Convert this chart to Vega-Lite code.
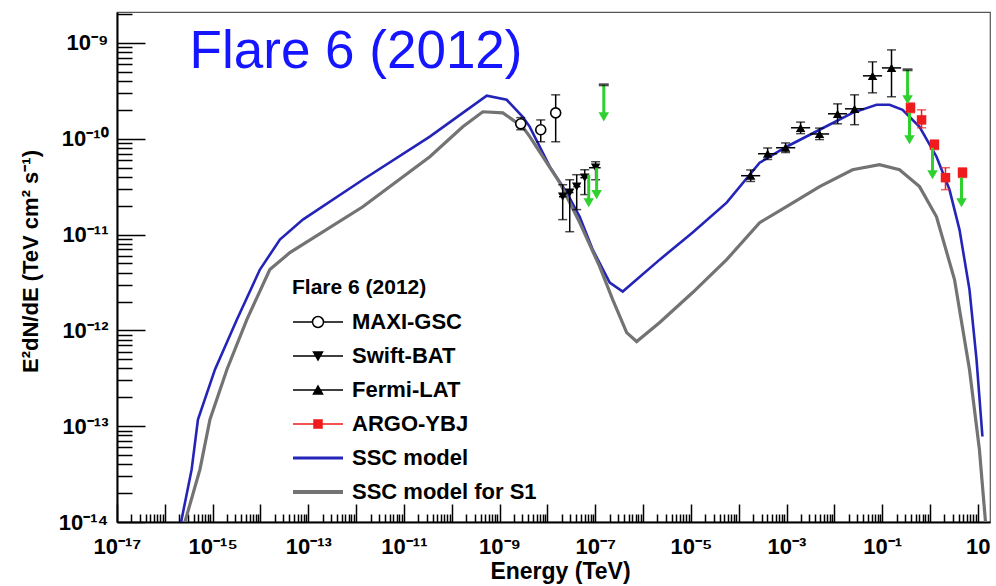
{
  "$schema": "https://vega.github.io/schema/vega-lite/v6.json",
  "width": 873,
  "height": 510,
  "autosize": "none",
  "padding": {"left": 117, "top": 12, "right": 6, "bottom": 64},
  "background": "white",
  "config": {"view": {"stroke": "#555555", "strokeWidth": 1.2}, "font": "Liberation Sans"},
  "datasets": {
    "models": [
      {"series": "SSC model", "E": 2.19e-16, "F": 1.0e-14},
      {"series": "SSC model", "E": 3.64e-16, "F": 3.54e-14},
      {"series": "SSC model", "E": 4.93e-16, "F": 1.175e-13},
      {"series": "SSC model", "E": 1.12e-15, "F": 3.91e-13},
      {"series": "SSC model", "E": 3.22e-15, "F": 1.30e-12},
      {"series": "SSC model", "E": 9.75e-15, "F": 4.31e-12},
      {"series": "SSC model", "E": 2.55e-14, "F": 8.85e-12},
      {"series": "SSC model", "E": 7.71e-14, "F": 1.43e-11},
      {"series": "SSC model", "E": 1.38e-12, "F": 3.73e-11},
      {"series": "SSC model", "E": 3.48e-11, "F": 1.05e-10},
      {"series": "SSC model", "E": 1.70e-10, "F": 1.86e-10},
      {"series": "SSC model", "E": 5.40e-10, "F": 2.81e-10},
      {"series": "SSC model", "E": 1.41e-9, "F": 2.55e-10},
      {"series": "SSC model", "E": 3.05e-9, "F": 1.69e-10},
      {"series": "SSC model", "E": 4.28e-9, "F": 1.33e-10},
      {"series": "SSC model", "E": 1.12e-8, "F": 5.11e-11},
      {"series": "SSC model", "E": 2.54e-8, "F": 2.74e-11},
      {"series": "SSC model", "E": 4.74e-8, "F": 1.53e-11},
      {"series": "SSC model", "E": 8.87e-8, "F": 6.95e-12},
      {"series": "SSC model", "E": 2.01e-7, "F": 3.15e-12},
      {"series": "SSC model", "E": 3.76e-7, "F": 2.54e-12},
      {"series": "SSC model", "E": 2.23e-6, "F": 5.47e-12},
      {"series": "SSC model", "E": 1.09e-5, "F": 1.05e-11},
      {"series": "SSC model", "E": 5.60e-5, "F": 2.15e-11},
      {"series": "SSC model", "E": 2.74e-4, "F": 5.61e-11},
      {"series": "SSC model", "E": 1.00e-3, "F": 8.24e-11},
      {"series": "SSC model", "E": 4.92e-3, "F": 1.24e-10},
      {"series": "SSC model", "E": 0.024, "F": 1.86e-10},
      {"series": "SSC model", "E": 0.0764, "F": 2.26e-10},
      {"series": "SSC model", "E": 0.143, "F": 2.26e-10},
      {"series": "SSC model", "E": 0.267, "F": 2.00e-10},
      {"series": "SSC model", "E": 0.605, "F": 1.33e-10},
      {"series": "SSC model", "E": 1.37, "F": 6.49e-11},
      {"series": "SSC model", "E": 2.56, "F": 2.94e-11},
      {"series": "SSC model", "E": 4.15, "F": 1.12e-11},
      {"series": "SSC model", "E": 6.70, "F": 2.66e-12},
      {"series": "SSC model", "E": 9.40, "F": 4.97e-13},
      {"series": "SSC model", "E": 12.5, "F": 7.8e-14},
      {"series": "SSC model for S1", "E": 2.63e-16, "F": 1.0e-14},
      {"series": "SSC model for S1", "E": 5.43e-16, "F": 3.54e-14},
      {"series": "SSC model for S1", "E": 8.79e-16, "F": 1.175e-13},
      {"series": "SSC model for S1", "E": 1.99e-15, "F": 3.91e-13},
      {"series": "SSC model for S1", "E": 5.21e-15, "F": 1.30e-12},
      {"series": "SSC model for S1", "E": 1.57e-14, "F": 4.31e-12},
      {"series": "SSC model for S1", "E": 4.12e-14, "F": 6.47e-12},
      {"series": "SSC model for S1", "E": 1.38e-12, "F": 1.95e-11},
      {"series": "SSC model for S1", "E": 3.48e-11, "F": 6.49e-11},
      {"series": "SSC model for S1", "E": 1.70e-10, "F": 1.33e-10},
      {"series": "SSC model for S1", "E": 4.46e-10, "F": 1.91e-10},
      {"series": "SSC model for S1", "E": 1.17e-9, "F": 1.86e-10},
      {"series": "SSC model for S1", "E": 3.05e-9, "F": 1.33e-10},
      {"series": "SSC model for S1", "E": 4.28e-9, "F": 1.05e-10},
      {"series": "SSC model for S1", "E": 1.81e-8, "F": 3.48e-11},
      {"series": "SSC model for S1", "E": 4.74e-8, "F": 1.33e-11},
      {"series": "SSC model for S1", "E": 1.24e-7, "F": 4.62e-12},
      {"series": "SSC model for S1", "E": 2.32e-7, "F": 2.09e-12},
      {"series": "SSC model for S1", "E": 4.55e-7, "F": 9.48e-13},
      {"series": "SSC model for S1", "E": 7.36e-7, "F": 7.64e-13},
      {"series": "SSC model for S1", "E": 2.23e-6, "F": 1.21e-12},
      {"series": "SSC model for S1", "E": 1.09e-5, "F": 2.48e-12},
      {"series": "SSC model for S1", "E": 5.60e-5, "F": 5.47e-12},
      {"series": "SSC model for S1", "E": 2.74e-4, "F": 1.33e-11},
      {"series": "SSC model for S1", "E": 1.00e-3, "F": 1.95e-11},
      {"series": "SSC model for S1", "E": 4.92e-3, "F": 3.16e-11},
      {"series": "SSC model for S1", "E": 0.024, "F": 4.74e-11},
      {"series": "SSC model for S1", "E": 0.0881, "F": 5.35e-11},
      {"series": "SSC model for S1", "E": 0.231, "F": 4.74e-11},
      {"series": "SSC model for S1", "E": 0.605, "F": 3.16e-11},
      {"series": "SSC model for S1", "E": 1.37, "F": 1.53e-11},
      {"series": "SSC model for S1", "E": 3.26, "F": 3.39e-12},
      {"series": "SSC model for S1", "E": 6.70, "F": 3.91e-13},
      {"series": "SSC model for S1", "E": 10.8, "F": 5.73e-14},
      {"series": "SSC model for S1", "E": 14.5, "F": 1.0e-14},
      {"series": "SSC model for S1", "E": 15.8, "F": 5.0e-15}
    ],
    "pts": [
      {"series": "MAXI-GSC", "E": 2.77e-9, "F": 1.43e-10, "lo": 1.24e-10, "hi": 1.66e-10},
      {"series": "MAXI-GSC", "E": 7.26e-9, "F": 1.24e-10, "lo": 9.29e-11, "hi": 1.57e-10},
      {"series": "MAXI-GSC", "E": 1.49e-8, "F": 1.86e-10, "lo": 9.29e-11, "hi": 2.87e-10},
      {"series": "Swift-BAT", "E": 2.09e-8, "F": 2.48e-11, "lo": 1.43e-11, "hi": 3.31e-11, "Elo": 1.75e-8, "Ehi": 2.5e-8},
      {"series": "Swift-BAT", "E": 2.93e-8, "F": 2.74e-11, "lo": 1.07e-11, "hi": 3.73e-11, "Elo": 2.5e-8, "Ehi": 3.5e-8},
      {"series": "Swift-BAT", "E": 4.10e-8, "F": 3.16e-11, "lo": 1.82e-11, "hi": 4.21e-11, "Elo": 3.5e-8, "Ehi": 4.9e-8},
      {"series": "Swift-BAT", "E": 6.03e-8, "F": 3.92e-11, "lo": 2.61e-11, "hi": 4.74e-11, "Elo": 4.9e-8, "Ehi": 7.4e-8},
      {"series": "Swift-BAT", "E": 1.02e-7, "F": 4.98e-11, "lo": 3.73e-11, "hi": 5.75e-11, "Elo": 7.4e-8, "Ehi": 1.3e-7},
      {"series": "Fermi-LAT", "E": 1.78e-4, "F": 4.11e-11, "lo": 3.58e-11, "hi": 4.72e-11, "Elo": 1.12e-4, "Ehi": 2.82e-4},
      {"series": "Fermi-LAT", "E": 4.03e-4, "F": 6.97e-11, "lo": 6.07e-11, "hi": 8.0e-11, "Elo": 2.54e-4, "Ehi": 6.39e-4},
      {"series": "Fermi-LAT", "E": 9.57e-4, "F": 8.05e-11, "lo": 7.17e-11, "hi": 9.03e-11, "Elo": 6.04e-4, "Ehi": 1.52e-3},
      {"series": "Fermi-LAT", "E": 1.97e-3, "F": 1.30e-10, "lo": 1.13e-10, "hi": 1.49e-10, "Elo": 1.24e-3, "Ehi": 3.12e-3},
      {"series": "Fermi-LAT", "E": 4.91e-3, "F": 1.12e-10, "lo": 9.79e-11, "hi": 1.29e-10, "Elo": 3.10e-3, "Ehi": 7.78e-3},
      {"series": "Fermi-LAT", "E": 1.17e-2, "F": 1.82e-10, "lo": 1.43e-10, "hi": 2.31e-10, "Elo": 7.38e-3, "Ehi": 1.85e-2},
      {"series": "Fermi-LAT", "E": 2.65e-2, "F": 2.05e-10, "lo": 1.40e-10, "hi": 2.87e-10, "Elo": 1.67e-2, "Ehi": 4.20e-2},
      {"series": "Fermi-LAT", "E": 6.30e-2, "F": 4.53e-10, "lo": 3.01e-10, "hi": 6.34e-10, "Elo": 3.97e-2, "Ehi": 9.98e-2},
      {"series": "Fermi-LAT", "E": 0.157, "F": 5.48e-10, "lo": 2.74e-10, "hi": 8.45e-10, "Elo": 0.099, "Ehi": 0.249},
      {"series": "ARGO-YBJ", "E": 0.392, "F": 2.10e-10, "lo": 1.87e-10, "hi": 2.36e-10, "Elo": 0.33, "Ehi": 0.47},
      {"series": "ARGO-YBJ", "E": 0.667, "F": 1.57e-10, "lo": 1.30e-10, "hi": 2.00e-10, "Elo": 0.56, "Ehi": 0.80},
      {"series": "ARGO-YBJ", "E": 1.24, "F": 8.65e-11, "lo": 7.71e-11, "hi": 9.71e-11, "Elo": 1.04, "Ehi": 1.48},
      {"series": "ARGO-YBJ", "E": 2.11, "F": 3.92e-11, "lo": 2.94e-11, "hi": 4.98e-11, "Elo": 1.77, "Ehi": 2.52},
      {"series": "ARGO-YBJ", "E": 4.79, "F": 4.42e-11, "lo": 3.94e-11, "hi": 4.96e-11, "Elo": 4.0, "Ehi": 5.7}
    ],
    "uls": [
      {"E": 1.51e-7, "top": 3.65e-10, "bot": 1.69e-10},
      {"E": 7.31e-8, "top": 4.21e-11, "bot": 2.15e-11},
      {"E": 1.07e-7, "top": 4.98e-11, "bot": 2.61e-11},
      {"E": 0.340, "top": 5.24e-10, "bot": 2.55e-10},
      {"E": 0.373, "top": 1.86e-10, "bot": 9.75e-11},
      {"E": 1.13, "top": 8.05e-11, "bot": 4.21e-11},
      {"E": 4.56, "top": 3.92e-11, "bot": 2.15e-11}
    ]
  },
  "layer": [
    {
      "data": {"name": "models"},
      "mark": {"type": "line", "clip": true},
      "encoding": {
        "x": {
          "field": "E", "type": "quantitative",
          "scale": {"type": "log", "domain": [1e-17, 18], "nice": false},
          "axis": {
            "title": "Energy (TeV)",
            "grid": false,
            "values": [1e-17,2e-17,3e-17,4e-17,5e-17,6e-17,7e-17,8e-17,9e-17,
              1e-16,2e-16,3e-16,4e-16,5e-16,6e-16,7e-16,8e-16,9e-16,
              1e-15,2e-15,3e-15,4e-15,5e-15,6e-15,7e-15,8e-15,9e-15,
              1e-14,2e-14,3e-14,4e-14,5e-14,6e-14,7e-14,8e-14,9e-14,
              1e-13,2e-13,3e-13,4e-13,5e-13,6e-13,7e-13,8e-13,9e-13,
              1e-12,2e-12,3e-12,4e-12,5e-12,6e-12,7e-12,8e-12,9e-12,
              1e-11,2e-11,3e-11,4e-11,5e-11,6e-11,7e-11,8e-11,9e-11,
              1e-10,2e-10,3e-10,4e-10,5e-10,6e-10,7e-10,8e-10,9e-10,
              1e-9,2e-9,3e-9,4e-9,5e-9,6e-9,7e-9,8e-9,9e-9,
              1e-8,2e-8,3e-8,4e-8,5e-8,6e-8,7e-8,8e-8,9e-8,
              1e-7,2e-7,3e-7,4e-7,5e-7,6e-7,7e-7,8e-7,9e-7,
              1e-6,2e-6,3e-6,4e-6,5e-6,6e-6,7e-6,8e-6,9e-6,
              1e-5,2e-5,3e-5,4e-5,5e-5,6e-5,7e-5,8e-5,9e-5,
              1e-4,2e-4,3e-4,4e-4,5e-4,6e-4,7e-4,8e-4,9e-4,
              1e-3,2e-3,3e-3,4e-3,5e-3,6e-3,7e-3,8e-3,9e-3,
              1e-2,2e-2,3e-2,4e-2,5e-2,6e-2,7e-2,8e-2,9e-2,
              1e-1,2e-1,3e-1,4e-1,5e-1,6e-1,7e-1,8e-1,9e-1,
              1,2,3,4,5,6,7,8,9,10],
            "labelExpr": "abs(log(datum.value)/LN10 - round(log(datum.value)/LN10)) > 0.01 ? '' : round(log(datum.value)/LN10) == 1 ? '10' : abs(round(log(datum.value)/LN10)) % 2 == 1 ? '10⁻' + (abs(round(log(datum.value)/LN10)) >= 10 ? '¹' : '') + substring('⁰¹²³⁴⁵⁶⁷⁸⁹', abs(round(log(datum.value)/LN10)) % 10, abs(round(log(datum.value)/LN10)) % 10 + 1) : ''",
            "tickSize": {"expr": "abs(log(datum.value)/LN10 - round(log(datum.value)/LN10)) < 0.01 ? -18 : -8"},
            "tickColor": "black",
            "tickWidth": 1.5,
            "domainColor": "black",
            "domainWidth": 2,
            "labelFont": "Liberation Sans",
            "labelFontSize": 22,
            "labelFontWeight": "bold",
            "labelColor": "black",
            "labelPadding": 32,
            "labelOverlap": false,
            "labelFlush": false,
            "titleFont": "Liberation Sans",
            "titleFontSize": 23,
            "titleFontWeight": "bold",
            "titleColor": "black",
            "titleX": 443,
            "titleY": 56,
            "titleBaseline": "alphabetic"
          }
        },
        "y": {
          "field": "F", "type": "quantitative",
          "scale": {"type": "log", "domain": [1e-14, 2.1e-9], "nice": false},
          "axis": {
            "title": "E²dN/dE (TeV cm² s⁻¹)",
            "grid": false,
            "values": [1e-14,2e-14,3e-14,4e-14,5e-14,6e-14,7e-14,8e-14,9e-14,
              1e-13,2e-13,3e-13,4e-13,5e-13,6e-13,7e-13,8e-13,9e-13,
              1e-12,2e-12,3e-12,4e-12,5e-12,6e-12,7e-12,8e-12,9e-12,
              1e-11,2e-11,3e-11,4e-11,5e-11,6e-11,7e-11,8e-11,9e-11,
              1e-10,2e-10,3e-10,4e-10,5e-10,6e-10,7e-10,8e-10,9e-10,
              1e-9,2e-9],
            "labelExpr": "abs(log(datum.value)/LN10 - round(log(datum.value)/LN10)) > 0.01 ? '' : '10⁻' + (abs(round(log(datum.value)/LN10)) >= 10 ? '¹' : '') + substring('⁰¹²³⁴⁵⁶⁷⁸⁹', abs(round(log(datum.value)/LN10)) % 10, abs(round(log(datum.value)/LN10)) % 10 + 1)",
            "tickSize": {"expr": "abs(log(datum.value)/LN10 - round(log(datum.value)/LN10)) < 0.01 ? -28 : -15"},
            "tickColor": "black",
            "tickWidth": 1.5,
            "domainColor": "black",
            "domainWidth": 2,
            "labelFont": "Liberation Sans",
            "labelFontSize": 22,
            "labelFontWeight": "bold",
            "labelColor": "black",
            "labelPadding": 37,
            "labelOverlap": false,
            "labelFlush": false,
            "titleFont": "Liberation Sans",
            "titleFontSize": 22,
            "titleFontWeight": "bold",
            "titleColor": "black",
            "titleX": -80,
            "titleY": 249,
            "titleAngle": -90,
            "titleBaseline": "alphabetic"
          }
        },
        "color": {
          "field": "series", "type": "nominal",
          "scale": {
            "domain": ["MAXI-GSC", "Swift-BAT", "Fermi-LAT", "ARGO-YBJ", "SSC model", "SSC model for S1"],
            "range": ["black", "black", "black", "#ee1c1c", "#2424b8", "#737373"]
          },
          "legend": {
            "orient": "none",
            "legendX": 175,
            "legendY": 265,
            "padding": 0,
            "title": "Flare 6 (2012)",
            "titleFont": "Liberation Sans",
            "titleFontSize": 21,
            "titleFontWeight": "bold",
            "titleColor": "black",
            "titlePadding": 13,
            "titleLimit": 400,
            "labelFont": "Liberation Sans",
            "labelFontSize": 22,
            "labelFontWeight": "bold",
            "labelColor": "black",
            "labelLimit": 400,
            "labelOffset": 38,
            "symbolSize": 400,
            "symbolStrokeWidth": 1.5,
            "rowPadding": 12,
            "encode": {
              "symbols": {
                "update": {
                  "shape": {"signal": "datum.value == 'MAXI-GSC' ? 'M-1,0H0.95M2.05,0H4M2.05,0A0.55,0.55,0,1,1,0.95,0A0.55,0.55,0,1,1,2.05,0' : datum.value == 'Swift-BAT' ? 'M-1,0H4M1.05,-0.4H1.95L1.5,0.4Z' : datum.value == 'Fermi-LAT' ? 'M-1,0H4M1.05,0.4H1.95L1.5,-0.4Z' : datum.value == 'ARGO-YBJ' ? 'M-1,0H4M1.1,-0.4H1.9V0.4H1.1Z' : 'M-1,0H4'"},
                  "fill": {"signal": "datum.value == 'MAXI-GSC' ? 'white' : datum.value == 'ARGO-YBJ' ? '#ee1c1c' : (datum.value == 'SSC model' || datum.value == 'SSC model for S1') ? 'transparent' : 'black'"},
                  "stroke": {"signal": "datum.value == 'ARGO-YBJ' ? '#ee1c1c' : datum.value == 'SSC model' ? '#2424b8' : datum.value == 'SSC model for S1' ? '#737373' : 'black'"},
                  "strokeWidth": {"signal": "datum.value == 'SSC model' ? 3 : datum.value == 'SSC model for S1' ? 4 : 1.5"},
                  "opacity": {"value": 1}
                }
              }
            }
          }
        },
        "strokeWidth": {"condition": {"test": "datum.series == 'SSC model'", "value": 2.6}, "value": 3.2}
      }
    },
    {
      "data": {"values": [{}]},
      "mark": {"type": "text", "text": "Flare 6 (2012)", "align": "left", "baseline": "alphabetic", "font": "Liberation Sans", "fontSize": 53, "color": "#1515ff"},
      "encoding": {
        "x": {"datum": 3.3e-16, "type": "quantitative", "scale": {"type": "log", "domain": [1e-17, 18], "nice": false}},
        "y": {"datum": 5.5e-10, "type": "quantitative", "scale": {"type": "log", "domain": [1e-14, 2.1e-9], "nice": false}}
      }
    },
    {
      "data": {"name": "pts"},
      "mark": {"type": "rule", "strokeWidth": 1.5},
      "encoding": {
        "x": {"field": "E", "type": "quantitative", "scale": {"type": "log", "domain": [1e-17, 18], "nice": false}},
        "y": {"field": "lo", "type": "quantitative", "scale": {"type": "log", "domain": [1e-14, 2.1e-9], "nice": false}},
        "y2": {"field": "hi"},
        "color": {"condition": {"test": "datum.series == 'ARGO-YBJ'", "value": "#ee1c1c"}, "value": "black"}
      }
    },
    {
      "data": {"name": "pts"},
      "transform": [{"filter": "isValid(datum.Elo)"}],
      "mark": {"type": "rule", "strokeWidth": 1.5},
      "encoding": {
        "x": {"field": "Elo", "type": "quantitative", "scale": {"type": "log", "domain": [1e-17, 18], "nice": false}},
        "x2": {"field": "Ehi"},
        "y": {"field": "F", "type": "quantitative", "scale": {"type": "log", "domain": [1e-14, 2.1e-9], "nice": false}},
        "color": {"condition": {"test": "datum.series == 'ARGO-YBJ'", "value": "#ee1c1c"}, "value": "black"}
      }
    },
    {
      "data": {"name": "pts"},
      "mark": {"type": "tick", "orient": "horizontal", "size": 9, "thickness": 1.5},
      "encoding": {
        "x": {"field": "E", "type": "quantitative", "scale": {"type": "log", "domain": [1e-17, 18], "nice": false}},
        "y": {"field": "hi", "type": "quantitative", "scale": {"type": "log", "domain": [1e-14, 2.1e-9], "nice": false}},
        "color": {"condition": {"test": "datum.series == 'ARGO-YBJ'", "value": "#ee1c1c"}, "value": "black"}
      }
    },
    {
      "data": {"name": "pts"},
      "mark": {"type": "tick", "orient": "horizontal", "size": 9, "thickness": 1.5},
      "encoding": {
        "x": {"field": "E", "type": "quantitative", "scale": {"type": "log", "domain": [1e-17, 18], "nice": false}},
        "y": {"field": "lo", "type": "quantitative", "scale": {"type": "log", "domain": [1e-14, 2.1e-9], "nice": false}},
        "color": {"condition": {"test": "datum.series == 'ARGO-YBJ'", "value": "#ee1c1c"}, "value": "black"}
      }
    },
    {
      "data": {"name": "pts"},
      "transform": [{"filter": "datum.series == 'MAXI-GSC'"}],
      "mark": {"type": "point", "shape": "circle", "filled": false, "fill": "white", "fillOpacity": 1, "stroke": "black", "strokeWidth": 1.6, "size": 100, "opacity": 1},
      "encoding": {
        "x": {"field": "E", "type": "quantitative", "scale": {"type": "log", "domain": [1e-17, 18], "nice": false}},
        "y": {"field": "F", "type": "quantitative", "scale": {"type": "log", "domain": [1e-14, 2.1e-9], "nice": false}}
      }
    },
    {
      "data": {"name": "pts"},
      "transform": [{"filter": "datum.series != 'MAXI-GSC'"}],
      "mark": {"type": "point", "filled": true, "size": 90, "opacity": 1},
      "encoding": {
        "x": {"field": "E", "type": "quantitative", "scale": {"type": "log", "domain": [1e-17, 18], "nice": false}},
        "y": {"field": "F", "type": "quantitative", "scale": {"type": "log", "domain": [1e-14, 2.1e-9], "nice": false}},
        "shape": {"condition": [{"test": "datum.series == 'Swift-BAT'", "value": "triangle-down"}, {"test": "datum.series == 'ARGO-YBJ'", "value": "square"}], "value": "triangle-up"},
        "color": {"condition": {"test": "datum.series == 'ARGO-YBJ'", "value": "#ee1c1c"}, "value": "black"}
      }
    },
    {
      "data": {"name": "uls"},
      "mark": {"type": "rule", "strokeWidth": 3, "color": "#2fd12f"},
      "encoding": {
        "x": {"field": "E", "type": "quantitative", "scale": {"type": "log", "domain": [1e-17, 18], "nice": false}},
        "y": {"field": "bot", "type": "quantitative", "scale": {"type": "log", "domain": [1e-14, 2.1e-9], "nice": false}},
        "y2": {"field": "top"}
      }
    },
    {
      "data": {"name": "uls"},
      "mark": {"type": "point", "shape": "triangle-down", "filled": true, "size": 110, "color": "#2fd12f", "opacity": 1},
      "encoding": {
        "x": {"field": "E", "type": "quantitative", "scale": {"type": "log", "domain": [1e-17, 18], "nice": false}},
        "y": {"field": "bot", "type": "quantitative", "scale": {"type": "log", "domain": [1e-14, 2.1e-9], "nice": false}}
      }
    },
    {
      "data": {"name": "uls"},
      "transform": [{"filter": "datum.top > 3e-10"}],
      "mark": {"type": "tick", "orient": "horizontal", "size": 10, "thickness": 3, "color": "black"},
      "encoding": {
        "x": {"field": "E", "type": "quantitative", "scale": {"type": "log", "domain": [1e-17, 18], "nice": false}},
        "y": {"field": "top", "type": "quantitative", "scale": {"type": "log", "domain": [1e-14, 2.1e-9], "nice": false}}
      }
    }
  ]
}
